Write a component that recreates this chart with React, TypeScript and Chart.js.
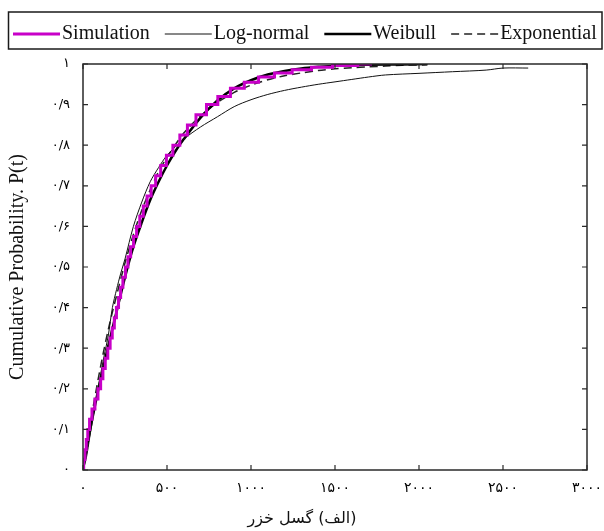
import React, { useEffect, useRef } from 'react';
import { Chart, registerables } from 'chart.js';

Chart.register(...registerables);

// ---- data ----
const simX = [0, 8, 15, 24, 33, 45, 62, 80, 98, 112, 125, 140, 155, 168, 180, 193, 205, 218, 230, 245, 260, 275, 292, 310, 328, 348, 370, 393, 418, 447, 478, 515, 555, 598, 645, 700, 770, 835, 920, 1000, 1090, 1190, 1300, 1420, 1550, 1720];
const simY = [0, 0.025, 0.05, 0.075, 0.1, 0.125, 0.15, 0.175, 0.2, 0.225, 0.25, 0.275, 0.3, 0.325, 0.35, 0.375, 0.4, 0.425, 0.45, 0.475, 0.5, 0.525, 0.55, 0.575, 0.6, 0.625, 0.65, 0.675, 0.7, 0.725, 0.75, 0.775, 0.8, 0.825, 0.85, 0.875, 0.9, 0.92, 0.94, 0.955, 0.968, 0.978, 0.986, 0.992, 0.996, 1.0];

const logX = [0, 20, 40, 60, 80, 100, 125, 150, 175, 200, 225, 250, 300, 350, 400, 450, 500, 600, 700, 800, 900, 1000, 1100, 1200, 1300, 1400, 1500, 1600, 1700, 1800, 2000, 2200, 2400, 2500, 2650];
const logY = [0, 0.03, 0.08, 0.13, 0.18, 0.225, 0.28, 0.33, 0.4, 0.445, 0.485, 0.52, 0.6, 0.66, 0.71, 0.745, 0.775, 0.815, 0.845, 0.87, 0.895, 0.912, 0.925, 0.935, 0.943, 0.95, 0.956, 0.962, 0.968, 0.973, 0.977, 0.981, 0.985, 0.99, 0.99];

const weiX = [0, 25, 50, 100, 150, 200, 250, 300, 350, 400, 450, 500, 550, 600, 700, 800, 900, 1000, 1100, 1200, 1300, 1400, 1500, 1700, 1900, 2050];
const weiY = [0, 0.06, 0.115, 0.215, 0.305, 0.39, 0.475, 0.55, 0.61, 0.665, 0.71, 0.75, 0.785, 0.815, 0.868, 0.91, 0.94, 0.96, 0.974, 0.983, 0.989, 0.993, 0.996, 0.998, 0.999, 1.0];

const expX = [0, 50, 100, 150, 200, 250, 300, 350, 400, 450, 500, 600, 700, 800, 900, 1000, 1100, 1200, 1300, 1400, 1500, 1600, 1700, 1800, 1900, 2050];
const expY = [0, 0.13, 0.245, 0.345, 0.43, 0.51, 0.58, 0.64, 0.69, 0.735, 0.77, 0.83, 0.872, 0.905, 0.93, 0.948, 0.961, 0.971, 0.978, 0.984, 0.988, 0.991, 0.993, 0.995, 0.997, 0.998];

const seriesNames = ['Simulation', 'Log-normal', 'Weibull', 'Exponential'];
const xTickLabels = ['۰', '۵۰۰', '۱۰۰۰', '۱۵۰۰', '۲۰۰۰', '۲۵۰۰', '۳۰۰۰'];
const yTickLabels = ['۰', '۰/۱', '۰/۲', '۰/۳', '۰/۴', '۰/۵', '۰/۶', '۰/۷', '۰/۸', '۰/۹', '۱'];
const xTitle = '(الف) گسل خزر';
const yTitle = 'Cumulative Probability. P(t)';

const pts = (xs: number[], ys: number[]) => xs.map((x, i) => ({ x, y: ys[i] }));

const framePlugin = {
  id: 'frameLegend',
  afterDraw(chart: any) {
    const ctx = chart.ctx;
    const { left, right, top, bottom } = chart.chartArea;
    const xs = chart.scales.x;
    const ys = chart.scales.y;
    ctx.save();
    // plot frame
    ctx.strokeStyle = '#2a2a2a';
    ctx.lineWidth = 1.5;
    ctx.strokeRect(left, top, right - left, bottom - top);
    // inward ticks
    const tl = 5;
    ctx.lineWidth = 1.2;
    ctx.beginPath();
    xs.ticks.forEach((t: any) => {
      const p = xs.getPixelForValue(t.value);
      ctx.moveTo(p, top); ctx.lineTo(p, top + tl);
      ctx.moveTo(p, bottom); ctx.lineTo(p, bottom - tl);
    });
    ys.ticks.forEach((t: any) => {
      const p = ys.getPixelForValue(t.value);
      ctx.moveTo(left, p); ctx.lineTo(left + tl, p);
      ctx.moveTo(right, p); ctx.lineTo(right - tl, p);
    });
    ctx.stroke();

    // legend box
    ctx.lineWidth = 1.5;
    ctx.strokeStyle = '#1a1a1a';
    ctx.strokeRect(8.5, 12, 593.5, 37);
    ctx.font = '20px "Liberation Serif", "Times New Roman", serif';
    ctx.textBaseline = 'alphabetic';
    ctx.textAlign = 'left';
    let x = 13;
    const lineLen = 47;
    chart.data.datasets.forEach((ds: any) => {
      ctx.save();
      ctx.strokeStyle = ds.borderColor;
      ctx.lineWidth = ds.borderWidth;
      ctx.setLineDash(ds.borderDash || []);
      ctx.beginPath();
      ctx.moveTo(x, 34);
      ctx.lineTo(x + lineLen, 34);
      ctx.stroke();
      ctx.restore();
      x += lineLen + 2;
      ctx.fillStyle = '#111';
      ctx.fillText(ds.label, x, 39);
      x += ctx.measureText(ds.label).width + 15;
    });

    // x title (right-to-left text)
    ctx.font = '16px "DejaVu Sans", sans-serif';
    ctx.direction = 'rtl';
    ctx.textAlign = 'center';
    ctx.textBaseline = 'middle';
    ctx.fillStyle = '#111';
    ctx.fillText(xTitle, 302, 519);
    ctx.restore();
  },
};

export default function App() {
  const ref = useRef<HTMLCanvasElement | null>(null);
  useEffect(() => {
    if (!ref.current) return;
    const chart = new Chart(ref.current, {
      type: 'line',
      data: {
        datasets: [
          {
            label: seriesNames[0],
            data: pts(simX, simY),
            borderColor: '#c800c8',
            borderWidth: 3,
            stepped: 'middle',
            pointRadius: 0,
            fill: false,
          },
          {
            label: seriesNames[1],
            data: pts(logX, logY),
            borderColor: '#111111',
            borderWidth: 1,
            pointRadius: 0,
            tension: 0.3,
            fill: false,
          },
          {
            label: seriesNames[2],
            data: pts(weiX, weiY),
            borderColor: '#000000',
            borderWidth: 2.5,
            pointRadius: 0,
            tension: 0.3,
            fill: false,
          },
          {
            label: seriesNames[3],
            data: pts(expX, expY),
            borderColor: '#222222',
            borderWidth: 1.5,
            borderDash: [8, 5],
            pointRadius: 0,
            tension: 0.3,
            fill: false,
          },
        ],
      } as any,
      options: {
        responsive: false,
        animation: false,
        devicePixelRatio: 1,
        layout: { padding: { top: 64, right: 17, left: 0, bottom: 0 } },
        plugins: {
          legend: { display: false },
          tooltip: { enabled: false },
        },
        scales: {
          x: {
            type: 'linear',
            min: 0,
            max: 3000,
            grid: { display: false, drawTicks: false },
            border: { display: false },
            ticks: {
              stepSize: 500,
              padding: 10,
              maxRotation: 0,
              autoSkip: false,
              color: '#000',
              font: { family: '"DejaVu Sans", sans-serif', size: 14 },
              callback: (v: any) => xTickLabels[Math.round(Number(v) / 500)],
            },
            afterFit: (s: any) => {
              s.height = 61;
              s.paddingLeft = 0;
              s.paddingRight = 0;
            },
          },
          y: {
            type: 'linear',
            min: 0,
            max: 1,
            grid: { display: false, drawTicks: false },
            border: { display: false },
            ticks: {
              stepSize: 0.1,
              padding: 13,
              autoSkip: false,
              color: '#000',
              font: { family: '"DejaVu Sans", sans-serif', size: 13 },
              callback: (v: any) => yTickLabels[Math.round(Number(v) * 10)],
            },
            title: {
              display: true,
              text: yTitle,
              color: '#111',
              font: { family: '"Liberation Serif", "Times New Roman", serif', size: 20 },
              padding: { top: 6, bottom: 0 },
            },
            afterFit: (s: any) => {
              s.width = 83;
              s.paddingTop = 0;
              s.paddingBottom = 0;
            },
          },
        },
      } as any,
      plugins: [framePlugin],
    });
    return () => chart.destroy();
  }, []);
  return (
    <div style={{ position: 'fixed', left: 0, top: 0, width: 604, height: 531, background: '#fff' }}>
      <canvas ref={ref} width={604} height={531} style={{ display: 'block' }} />
    </div>
  );
}
